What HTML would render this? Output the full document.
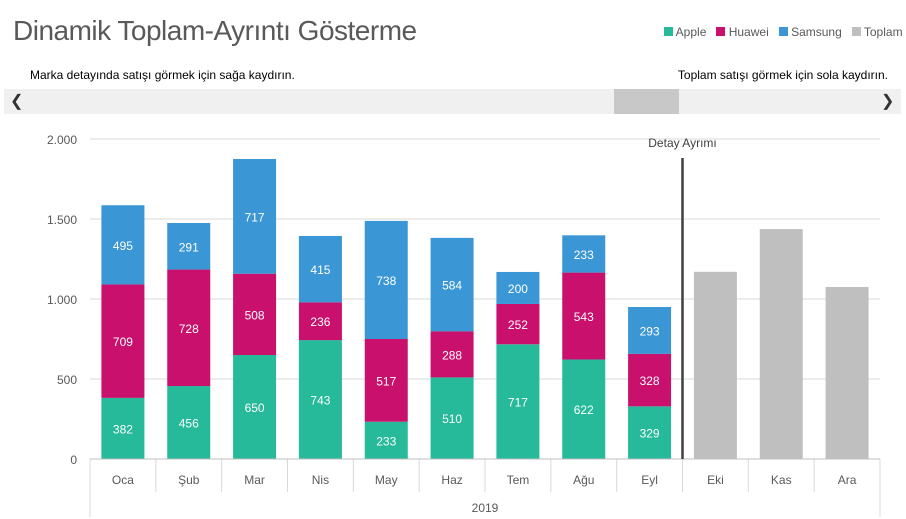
<!DOCTYPE html>
<html><head><meta charset="utf-8"><style>
body{margin:0;width:906px;height:519px;background:#fff;font-family:"Liberation Sans",sans-serif;overflow:hidden;position:relative}
.t{position:absolute;white-space:nowrap}
</style></head><body>
<div class="t" style="left:13px;top:15px;font-size:28px;color:#595959;letter-spacing:-0.5px">Dinamik Toplam-Ayrıntı Gösterme</div>
<div class="t" style="left:664px;top:25px;font-size:12px;color:#595959">
<span style="display:inline-block;width:9px;height:9px;background:#26b99a"></span> Apple &nbsp;
<span style="display:inline-block;width:9px;height:9px;background:#c8106c"></span> Huawei &nbsp;
<span style="display:inline-block;width:9px;height:9px;background:#3a96d5"></span> Samsung &nbsp;
<span style="display:inline-block;width:9px;height:9px;background:#bfbfbf"></span> Toplam</div>
<div class="t" style="left:30px;top:68px;font-size:12px;color:#000">Marka detayında satışı görmek için sağa kaydırın.</div>
<div class="t" style="right:18px;top:68px;font-size:12px;color:#000">Toplam satışı görmek için sola kaydırın.</div>
<div style="position:absolute;left:4px;top:89px;width:897px;height:25px;background:#f0f0f0"></div>
<div style="position:absolute;left:614px;top:89px;width:65px;height:25px;background:#c8c8c8"></div>
<div class="t" style="left:10px;top:91px;font-size:16px;color:#333">❮</div>
<div class="t" style="left:881px;top:91px;font-size:16px;color:#333">❯</div>
<svg id="c" width="906" height="519" style="position:absolute;left:0;top:0"></svg>
<script>
const cats=["Oca","Şub","Mar","Nis","May","Haz","Tem","Ağu","Eyl","Eki","Kas","Ara"];
const apple=[382,456,650,743,233,510,717,622,329,null,null,null];
const huawei=[709,728,508,236,517,288,252,543,328,null,null,null];
const samsung=[495,291,717,415,738,584,200,233,293,null,null,null];
const totals=[null,null,null,null,null,null,null,null,null,1170,1437,1075];
const yTicks=[0,500,1000,1500,2000];
const yLabels=["0","500","1.000","1.500","2.000"];
const x0=90,x1=880,yb=459,yt=139,ymax=2000;
const bw=(x1-x0)/cats.length, barW=43;
const Y=v=>yb-(v/ymax)*(yb-yt);
const X=i=>x0+bw*i+bw/2;
const s=document.getElementById('c');const NS="http://www.w3.org/2000/svg";
function mk(t,a,txt){const e=document.createElementNS(NS,t);for(const k in a)e.setAttribute(k,a[k]);if(txt!=null)e.textContent=txt;s.appendChild(e);return e;}
yTicks.forEach((v,i)=>{
 const g=mk('line',{x1:x0,x2:x1,y1:Y(v),y2:Y(v),stroke:'#d9d9d9'});
 
 
 const t=mk('text',{x:77,y:Y(v)+5,'text-anchor':'end','font-size':12,fill:'#595959'},yLabels[i]);
 
 
});
for(let i=0;i<=cats.length;i++){const l=mk('line',{x1:x0+bw*i,x2:x0+bw*i,y1:yb,y2:492,stroke:'#d9d9d9'});
 
 }
mk('line',{x1:x0,x2:x0,y1:492,y2:517,stroke:'#d9d9d9'});
mk('line',{x1:x1,x2:x1,y1:492,y2:517,stroke:'#d9d9d9'});
const yr=mk('text',{x:(x0+x1)/2,y:512,'text-anchor':'middle','font-size':12,fill:'#595959'},'2019');


function seg(i,b,v,col,name){const r=mk('rect',{x:X(i)-barW/2,y:Y(b+v),width:barW,height:Y(b)-Y(b+v),fill:col});
 
 
 const t=mk('text',{x:X(i),y:(Y(b)+Y(b+v))/2+5,'text-anchor':'middle','font-size':12,fill:'#fff'},String(v));
 
 }
cats.forEach((c,i)=>{
 if(apple[i]!=null){seg(i,0,apple[i],'#26b99a','bar-apple');seg(i,apple[i],huawei[i],'#c8106c','bar-huawei');seg(i,apple[i]+huawei[i],samsung[i],'#3a96d5','bar-samsung');}
 if(totals[i]!=null){const r=mk('rect',{x:X(i)-barW/2,y:Y(totals[i]),width:barW,height:yb-Y(totals[i]),fill:'#bfbfbf'});
  
  }
 const t=mk('text',{x:X(i),y:484,'text-anchor':'middle','font-size':12,fill:'#595959'},c);
 
 
});
mk('line',{x1:x0,x2:x1,y1:yb,y2:yb,stroke:'#bfbfbf'});
const dv=mk('line',{x1:x0+bw*9,x2:x0+bw*9,y1:158,y2:yb,stroke:'#404040','stroke-width':2.5});


const dl=mk('text',{x:x0+bw*9,y:147,'text-anchor':'middle','font-size':12,fill:'#404040'},'Detay Ayrımı');


</script>
</body></html>
